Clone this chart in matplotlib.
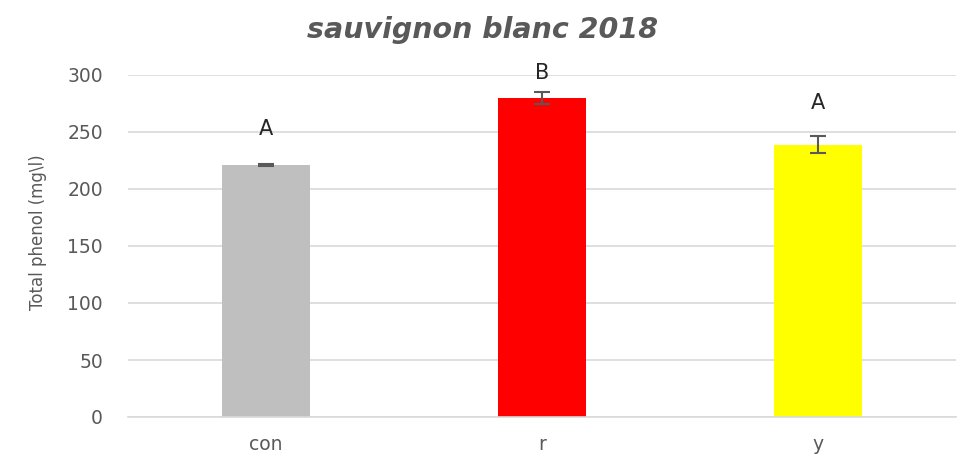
import numpy as np
import matplotlib.pyplot as plt

categories = ['con', 'r', 'y']
values = [221, 280, 239]
errors = [1, 5.5, 7.5]
letters = ['A', 'B', 'A']
letter_y = [253, 302, 275]
colors = ['#bfbfbf', '#ff0000', '#ffff00']

plt.rcParams['font.family'] = ['DejaVu Sans']

fig = plt.figure(figsize=(9.62, 4.57), dpi=100)
ax = fig.add_axes([128 / 962, 40 / 457, 828 / 962, 342 / 457])

x = np.arange(len(categories))
ax.bar(x, values, width=0.32, color=colors, zorder=2)
ax.errorbar(x, values, yerr=errors, fmt='none', ecolor='#595959',
            elinewidth=1.5, capsize=6, capthick=1.5, zorder=3)
for xi, lab, ly in zip(x, letters, letter_y):
    ax.text(xi, ly, lab, ha='center', va='center', fontsize=15, color='#262626')

ax.set_xlim(-0.5, 2.5)
ax.set_ylim(0, 300)
ax.set_yticks(range(0, 301, 50))
ax.set_xticks(x)
ax.set_xticklabels(categories)
ax.yaxis.grid(True, color='#d9d9d9', linewidth=1.2, zorder=0)
ax.set_axisbelow(True)
for s in ['top', 'right', 'left']:
    ax.spines[s].set_visible(False)
ax.spines['bottom'].set_color('#d9d9d9')
ax.spines['bottom'].set_linewidth(1.2)
ax.tick_params(axis='y', length=0, labelsize=13.5, colors='#595959', pad=18)
ax.tick_params(axis='x', length=0, labelsize=13.5, colors='#595959', pad=13)
ax.set_ylabel('Total phenol (mg\\l)', fontsize=12, color='#595959')
ax.yaxis.set_label_coords(-0.098, 0.54)
fig.text(0.502, 1 - 30 / 457, 'sauvignon blanc 2018', ha='center', va='center',
         fontsize=20.5, fontweight='bold', style='italic', color='#595959')

fig.savefig('out.png', dpi=100)
